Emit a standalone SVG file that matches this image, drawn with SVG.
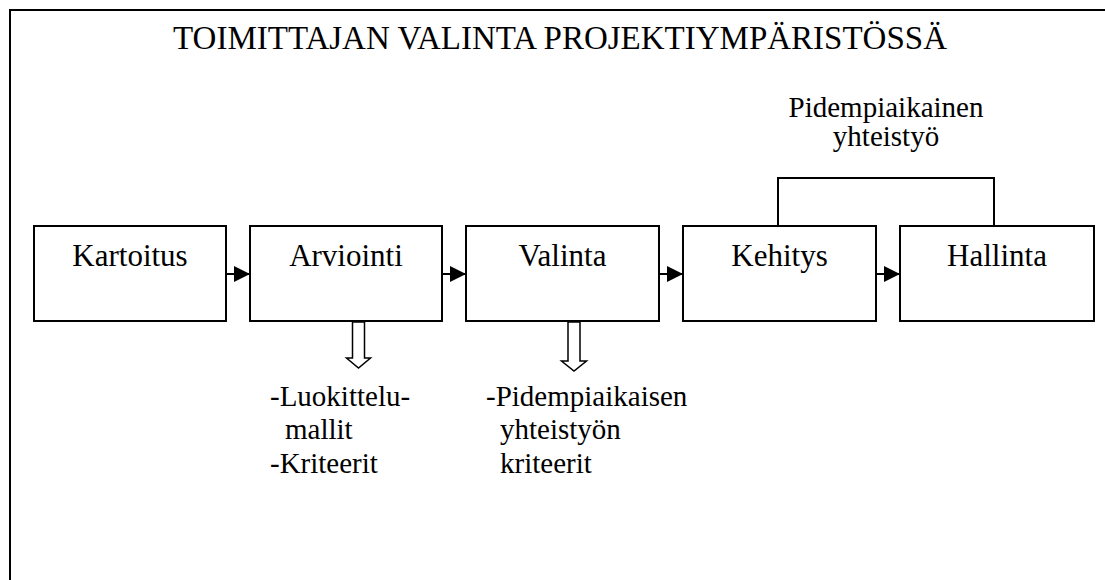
<svg xmlns="http://www.w3.org/2000/svg" width="1105" height="580" viewBox="0 0 1105 580">
<defs>
<marker id="ah" markerWidth="16" markerHeight="16" refX="16" refY="8" orient="auto" markerUnits="userSpaceOnUse">
<path d="M0,0 L16,8 L0,16 Z" fill="#000"/>
</marker>
</defs>
<rect width="1105" height="580" fill="#fff"/>
<rect x="10" y="10" width="1200" height="700" fill="none" stroke="#000" stroke-width="2"/>
<text x="560" y="49" font-size="33" text-anchor="middle" font-family="Liberation Serif">TOIMITTAJAN VALINTA PROJEKTIYMPÄRISTÖSSÄ</text>
<g id="connectors" fill="none" stroke="#000" stroke-width="2">
<line x1="226" y1="274" x2="250" y2="274" marker-end="url(#ah)"/>
<line x1="442" y1="274" x2="466" y2="274" marker-end="url(#ah)"/>
<line x1="659" y1="274" x2="683" y2="274" marker-end="url(#ah)"/>
<line x1="876" y1="274" x2="900" y2="274" marker-end="url(#ah)"/>
<path d="M778,226 V178 H994 V226"/>
<path fill="#fff" stroke-width="1.5" d="M352.5,322 H364.5 V358 H370.5 L358.5,368 L346.5,358 H352.5 Z"/>
<path fill="#fff" stroke-width="1.5" d="M568,322 H580 V361 H586.5 L574,371 L561.5,361 H568 Z"/>
</g>
<g id="kartoitus"><rect x="34" y="226" width="192" height="95" fill="#fff" stroke="#000" stroke-width="2"/><text x="130" y="266" font-family="Liberation Serif" font-size="31" text-anchor="middle">Kartoitus</text></g>
<g id="arviointi"><rect x="250" y="226" width="192" height="95" fill="#fff" stroke="#000" stroke-width="2"/><text x="346" y="266" font-family="Liberation Serif" font-size="31" text-anchor="middle">Arviointi</text></g>
<g id="valinta"><rect x="466" y="226" width="193" height="95" fill="#fff" stroke="#000" stroke-width="2"/><text x="562.5" y="266" font-family="Liberation Serif" font-size="31" text-anchor="middle">Valinta</text></g>
<g id="kehitys"><rect x="683" y="226" width="193" height="95" fill="#fff" stroke="#000" stroke-width="2"/><text x="779.5" y="266" font-family="Liberation Serif" font-size="31" text-anchor="middle">Kehitys</text></g>
<g id="hallinta"><rect x="900" y="226" width="194" height="95" fill="#fff" stroke="#000" stroke-width="2"/><text x="997" y="266" font-family="Liberation Serif" font-size="31" text-anchor="middle">Hallinta</text></g>
<g id="label-yhteistyo">
<text x="886" y="117" font-family="Liberation Serif" font-size="29" text-anchor="middle">Pidempiaikainen</text>
<text x="886" y="146" font-family="Liberation Serif" font-size="29" text-anchor="middle">yhteistyö</text>
</g>
<g id="notes-arviointi">
<text x="270" y="406" font-family="Liberation Serif" font-size="29">-Luokittelu-</text>
<text x="285" y="439" font-family="Liberation Serif" font-size="29">mallit</text>
<text x="270" y="473" font-family="Liberation Serif" font-size="29">-Kriteerit</text>
</g>
<g id="notes-valinta">
<text x="486" y="406" font-family="Liberation Serif" font-size="29">-Pidempiaikaisen</text>
<text x="500" y="439" font-family="Liberation Serif" font-size="29">yhteistyön</text>
<text x="500" y="473" font-family="Liberation Serif" font-size="29">kriteerit</text>
</g>
</svg>
